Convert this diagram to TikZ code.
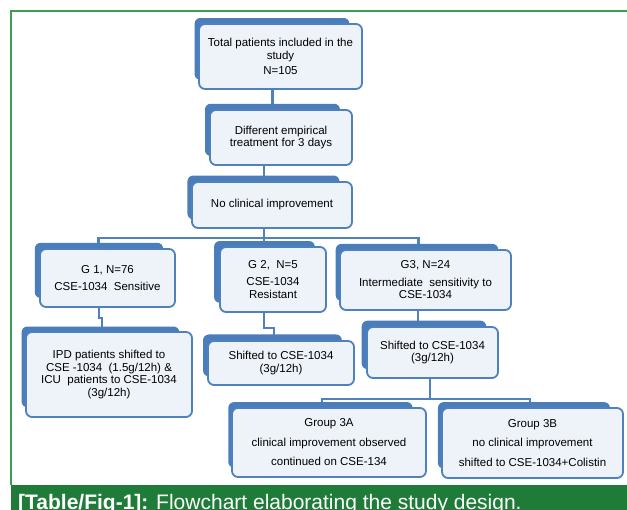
\documentclass[tikz,border=0pt]{standalone}
\usepackage{fontspec}
\setmainfont{Liberation Sans}
\usetikzlibrary{shadows,backgrounds}
\definecolor{boxblue}{HTML}{4F81BD}
\definecolor{plateblue}{HTML}{4A7DBA}
\definecolor{boxfill}{HTML}{EEF2F9}
\definecolor{framegreen}{HTML}{3D9E52}
\definecolor{bargreen}{HTML}{1F7B38}
\tikzset{
  flowbox/.style={draw=boxblue, line width=1.8pt, fill=boxfill, rounded corners=6pt,
    align=center, inner sep=0pt, font=\fontsize{11.5}{12.5}\selectfont,
    general shadow={fill=plateblue, shadow xshift=-9pt, shadow yshift=8pt, shadow scale=0.95}},
  link/.style={draw=boxblue, line width=2.6pt},
}

\begin{document}
\begin{tikzpicture}[x=1pt,y=-1pt]
\useasboundingbox (0,0) rectangle (627,510);
% frame and caption
\draw[framegreen, line width=1.5pt] (11,485) -- (11,11) -- (627,11);
\fill[bargreen] (11,485) rectangle (627,510);
\node[anchor=base west, text=white, inner sep=0pt, font=\fontsize{21}{24}\selectfont] (cap) at (18,510)
  {\textbf{[Table/Fig-1]:} Flowchart elaborating the study design.};
% top column
\node[flowbox, minimum width=163pt, minimum height=65pt] (tot) at (280.5,56.5)
  {Total patients included in the\\study\\[3pt]N=105};
\node[flowbox, minimum width=142pt, minimum height=55pt] (emp) at (281,137.5)
  {Different empirical\\treatment for 3 days};
\node[flowbox, minimum width=160pt, minimum height=46pt] (noimp) at (272,205)
  {No clinical improvement};
% groups
\node[flowbox, minimum width=135pt, minimum height=58pt] (g1) at (107.5,278)
  {G 1, N=76\\[5pt]CSE-1034\ \ Sensitive};
\node[flowbox, minimum width=106pt, minimum height=65pt] (g2) at (273,279.5)
  {G 2,\ \ N=5\\[5pt]CSE-1034\\Resistant};
\node[flowbox, minimum width=171pt, minimum height=60pt] (g3) at (425.5,280)
  {G3, N=24\\[5pt]Intermediate\ \ sensitivity to\\CSE-1034};
% treatments
\node[flowbox, minimum width=166pt, minimum height=85pt] (ipd) at (109,374.5)
  {IPD patients shifted to\\CSE -1034\ \ (1.5g/12h) \&\\ICU\ \ patients to CSE-1034\\(3g/12h)};
\node[flowbox, minimum width=146pt, minimum height=44pt] (s2) at (281,363)
  {Shifted to CSE-1034\\(3g/12h)};
\node[flowbox, minimum width=131pt, minimum height=51pt] (s3) at (432.5,352.5)
  {Shifted to CSE-1034\\(3g/12h)};
% group 3 split
\node[flowbox, minimum width=194pt, minimum height=69pt] (g3a) at (329,442.5)
  {Group 3A\\[7pt]clinical improvement observed\\[7pt]continued on CSE-134};
\node[flowbox, minimum width=181pt, minimum height=70pt] (g3b) at (532.5,443)
  {Group 3B\\[7pt]no clinical improvement\\[7pt]shifted to CSE-1034+Colistin};
% connectors
\begin{scope}[on background layer]
\draw[link] ([xshift=-8pt]tot.south) -- ([xshift=-8pt]tot.south |- emp.north);
\draw[link] ([xshift=-8pt]noimp.north) -- ([xshift=-8pt]noimp.north |- emp.south);
\draw[link] ([xshift=-8pt]noimp.south) -- ++(0,9) coordinate (fork);
\draw[link] (fork) -| ([xshift=-9pt]g1.north);
\draw[link] (fork) -| ([xshift=-7pt]g3.north);
\draw[link] (fork) -- (fork |- g2.north);
\draw[link] ([xshift=-8.5pt]g1.south) -- ++(0,10) -| ([xshift=-7pt]ipd.north);
\draw[link] ([xshift=-9pt]g2.south) -- ++(0,15) -| ([xshift=-7pt]s2.north);
\draw[link] ([xshift=-7.5pt]g3.south) -- ++(0,13) -| ([xshift=-8.5pt]s3.north);
\draw[link] ([xshift=-2.5pt]s3.south) -- ++(0,20) coordinate (forkb);
\draw[link] (forkb) -| ([xshift=-7pt]g3a.north);
\draw[link] (forkb) -| ([xshift=-2.5pt]g3b.north);
\end{scope}
\end{tikzpicture}
\end{document}
